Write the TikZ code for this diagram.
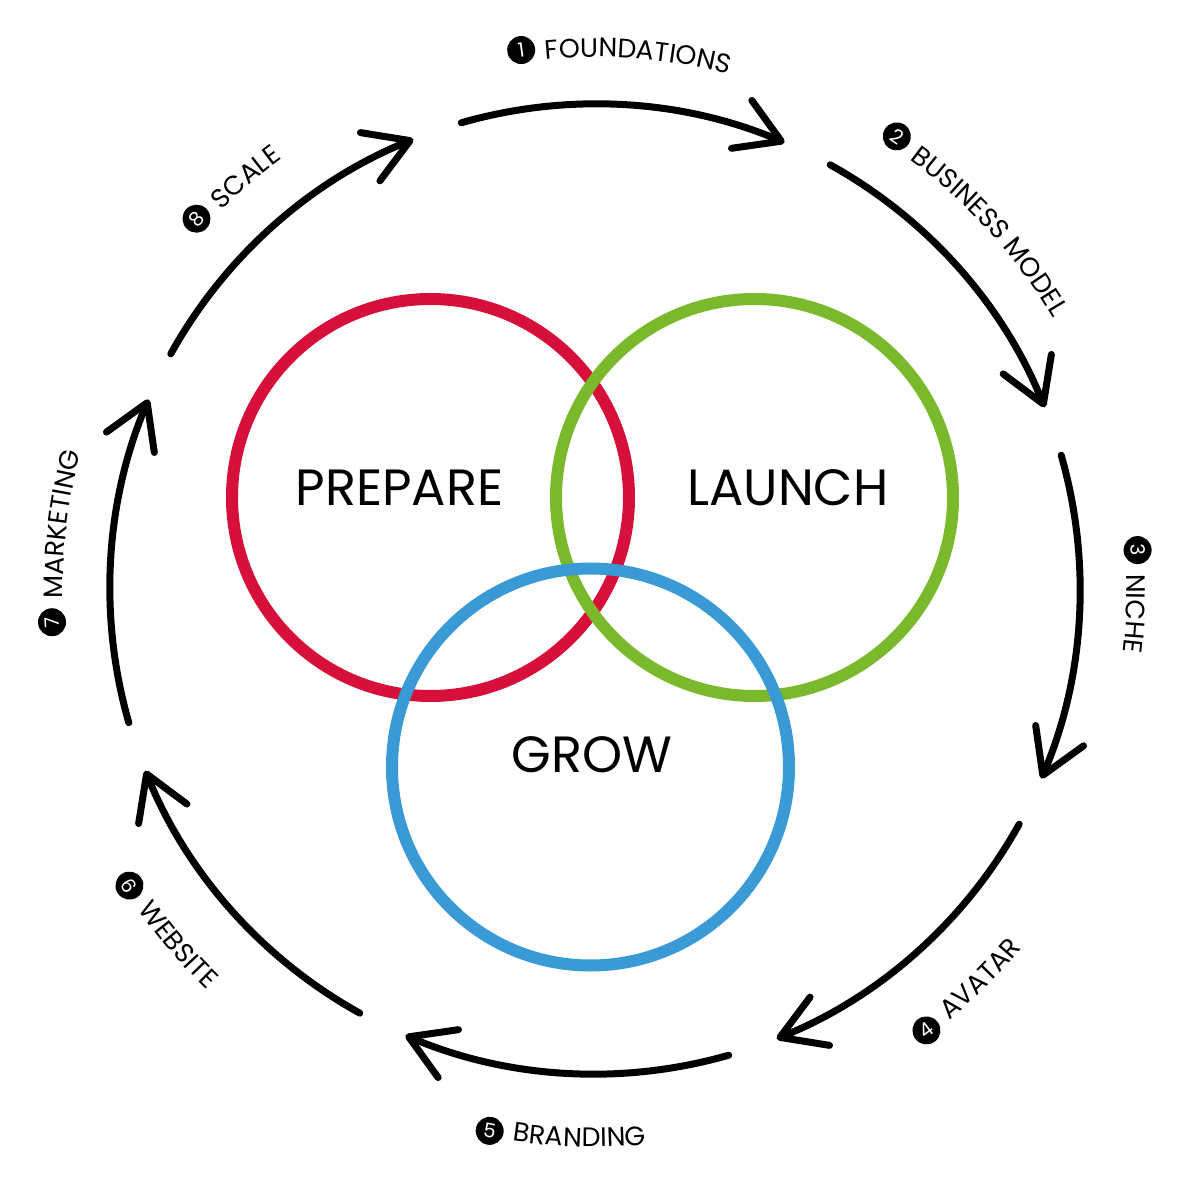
\documentclass[tikz,border=0pt]{standalone}
\usepackage{fontspec}
\setmainfont{Poppins}
\usepackage{tikz}
\usetikzlibrary{arrows.meta,decorations.text,positioning,calc}
\definecolor{prepred}{RGB}{214,16,58}
\definecolor{launchgreen}{RGB}{122,185,44}
\definecolor{growblue}{RGB}{58,154,214}
\newcommand\labelfont{\fontsize{7.6}{8}\selectfont}

\begin{document}
\labelfont
\begin{tikzpicture}[scale=1,
    ring/.style={line width=0.7mm, line cap=round, -{Straight Barb[length=4.3mm,width=5.2mm,round]}},
    venn/.style={line width=1.2mm},
    big/.style={anchor=base, inner sep=0pt, font=\fontsize{14.5}{16}\selectfont},
    badge/.style={circle, fill=black, text=white, inner sep=0pt, minimum size=2.8mm, font=\fontsize{5.6}{6}\selectfont}]
    \useasboundingbox (-5.95,-6.01) rectangle (5.95,5.89);
    \foreach \k in {0,...,7} {
      \draw [ring] ({106-45*\k}:4.85) arc[start angle={106-45*\k}, end angle={67-45*\k}, radius=4.85];
    }
    \coordinate (prepc) at (-1.645,0.915);
    \coordinate (launc) at (1.595,0.915);
    \coordinate (growc) at (-0.045,-1.78);
    \draw [venn, prepred] (prepc) circle[radius=1.985];
    \draw [venn, launchgreen] (launc) circle[radius=1.985];
    \draw [venn, growblue] (growc) circle[radius=1.985];
    \node [big] (prepare) at (-1.955,0.83) {PREPARE};
    \node [big] (launch) at (1.93,0.83) {LAUNCH};
    \node [big] (grow) at (-0.03,-1.83) {GROW};
    \foreach \n/\a/\txt in {1/95.3/FOUNDATIONS,2/53.8/BUSINESS MODEL,3/1.6/NICHE,7/181/MARKETING,8/134.6/SCALE} {
      \node [badge, rotate=\a+2.5-90] (badge\n) at (\a+2.5:5.44) {\n};
      \path [decorate, decoration={text along path, text/.expand once=\txt}] (\a:5.32) arc[start angle=\a, end angle=\a-40, radius=5.32];
    }
    \foreach \n/\a/\txt in {4/-50.6/AVATAR,5/-98.5/BRANDING,6/-145/WEBSITE} {
      \node [badge, rotate=\a-2.5+90] (badge\n) at (\a-2.5:5.52) {\n};
      \path [decorate, decoration={text along path, text/.expand once=\txt}] (\a:5.58) arc[start angle=\a, end angle=\a+40, radius=5.58];
    }
\end{tikzpicture}
\end{document}
